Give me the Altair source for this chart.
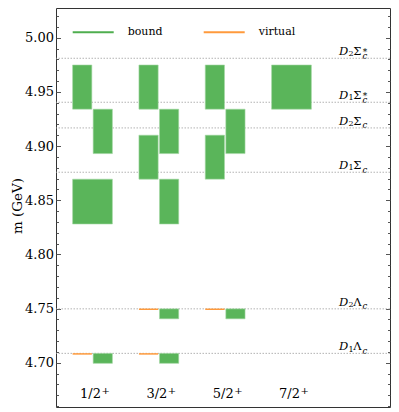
import altair as alt
import pandas as pd

# ---------------- data ----------------
cat_labels = ["1/2", "3/2", "5/2", "7/2"]
cat_parity = ["+", "+", "+", "+"]
cat_pos = [1, 2, 3, 4]

# bound-state bands: category, side of the category slot, lower / upper mass (GeV)
bound_cat = [1, 1, 1, 1, 2, 2, 2, 2, 2, 2, 3, 3, 3, 3, 4]
bound_side = ["L", "R", "F", "R", "L", "R", "L", "R", "R", "R", "L", "R", "L", "R", "F"]
bound_lo = [4.934, 4.893, 4.828, 4.6994, 4.934, 4.893, 4.8694, 4.828, 4.7405, 4.6994,
            4.934, 4.893, 4.8694, 4.7405, 4.934]
bound_hi = [4.9748, 4.934, 4.8694, 4.7086, 4.9748, 4.934, 4.910, 4.8694, 4.7497, 4.7086,
            4.9748, 4.934, 4.910, 4.7497, 4.9748]

# virtual states (thin lines), drawn on the left half of the slot
virt_cat = [1, 2, 2, 3]
virt_m = [4.7081, 4.7493, 4.7081, 4.7493]

# thresholds
thr_digit = ["1", "2", "1", "2", "1", "2"]
thr_baryon = ["Λ", "Λ", "Σ", "Σ", "Σ", "Σ"]
thr_star = ["", "", "", "", "*", "*"]
thr_m = [4.7086, 4.7497, 4.8758, 4.9167, 4.9404, 4.981]

legend_domain = ["bound", "virtual"]
legend_colors = ["#4fae4f", "#ff9a3c"]

yticks_major = [4.70, 4.75, 4.80, 4.85, 4.90, 4.95, 5.00]
yticks_minor = [round(4.66 + 0.01 * i, 2) for i in range(37)]

# ---------------- layout / style constants ----------------
W, H = 334, 399
Y_DOMAIN = [4.6591, 5.0274]
X_DOMAIN = [0.4497, 5.4852]
SIDE = {"L": (-0.3, -0.01), "R": (0.01, 0.3), "F": (-0.3, 0.3)}
SERIF = "DejaVu Serif"
GREEN = "#5ab55a"
LABEL_X = 283

bound_df = pd.DataFrame({
    "x1": [c + SIDE[s][0] for c, s in zip(bound_cat, bound_side)],
    "x2": [c + SIDE[s][1] for c, s in zip(bound_cat, bound_side)],
    "lo": bound_lo,
    "hi": bound_hi,
})
virt_df = pd.DataFrame({
    "type": "virtual",
    "x1": [c + SIDE["L"][0] for c in virt_cat],
    "x2": [c + SIDE["L"][1] for c in virt_cat],
    "m": virt_m,
})
thr_df = pd.DataFrame({"m": thr_m, "d": thr_digit, "b": thr_baryon, "s": thr_star})
cat_df = pd.DataFrame({"pos": cat_pos, "label": cat_labels, "par": cat_parity})

xscale = alt.Scale(domain=X_DOMAIN, nice=False, zero=False)


def yscale():
    return alt.Scale(domain=Y_DOMAIN, nice=False, zero=False)


major_test = "abs(round(datum.value*100)) % 5 == 0"
tick_size = {"condition": {"test": major_test, "value": 4.5}, "value": 2.5}

axis_labels = alt.Axis(
    orient="left", values=yticks_major, format=".2f", ticks=False, domain=False,
    grid=False, labelFont=SERIF, labelFontSize=13, labelColor="black",
    labelPadding=2.5, title="m (GeV)", titleFont=SERIF, titleFontSize=13.5,
    titleFontWeight="normal", titleColor="black", titleX=-35, titleY=197.5,
    titleBaseline="alphabetic", titleAlign="center", titleAngle=270,
)
axis_ticks_left = alt.Axis(
    orient="right", offset=-W, values=yticks_minor, labels=False, domain=False,
    grid=False, ticks=True, tickSize=tick_size, tickColor="#555", tickWidth=1, title=None,
)
axis_ticks_right = alt.Axis(
    orient="left", offset=-W, values=yticks_minor, labels=False, domain=False,
    grid=False, ticks=True, tickSize=tick_size, tickColor="#555", tickWidth=1, title=None,
)

thr_rules = alt.Chart(thr_df).mark_rule(
    color="#a0a0a0", strokeWidth=0.8, strokeDash=[1.5, 1.5]
).encode(y=alt.Y("m:Q", scale=yscale(), axis=axis_labels))

rects = alt.Chart(bound_df).mark_rect(
    color=GREEN, stroke="#a6d9a6", strokeWidth=0.6
).encode(
    x=alt.X("x1:Q", scale=xscale, axis=None),
    x2="x2:Q",
    y=alt.Y("lo:Q", scale=yscale(), axis=axis_ticks_left),
    y2="hi:Q",
)

virt = alt.Chart(virt_df).mark_rule(strokeWidth=1.5).encode(
    x=alt.X("x1:Q", scale=xscale, axis=None),
    x2="x2:Q",
    y=alt.Y("m:Q", scale=yscale(), axis=axis_ticks_right),
    stroke=alt.Stroke(
        "type:N",
        scale=alt.Scale(domain=legend_domain, range=legend_colors),
        legend=alt.Legend(
            title=None, orient="none", legendX=15.7, legendY=2.5, direction="horizontal",
            columns=2, symbolType="stroke", symbolSize=1681, symbolStrokeWidth=2,
            labelFont=SERIF, labelFontSize=11, labelColor="black", labelOffset=13,
            columnPadding=37, padding=0,
        ),
    ),
)


def thr_piece(text=None, field=None, size=11.5, style="normal", dx=0, dy=0):
    kw = dict(align="left", baseline="alphabetic", font=SERIF, fontSize=size,
              fontStyle=style, dx=dx, dy=dy, color="black")
    if text is not None:
        kw["text"] = text
    m = alt.Chart(thr_df).mark_text(**kw)
    enc = dict(x=alt.value(LABEL_X), y=alt.Y("m:Q", scale=yscale(), axis=None))
    if field is not None:
        enc["text"] = alt.Text(field + ":N")
    return m.encode(**enc)


lab_D = thr_piece(text="D", size=11.5, style="italic", dx=0, dy=-3.3)
lab_d = thr_piece(field="d", size=8, dx=9.5, dy=-1.8)
lab_b = thr_piece(field="b", size=11.5, dx=14.3, dy=-3.3)
lab_c = thr_piece(text="c", size=8.5, style="italic", dx=23.5, dy=0.5)
lab_s = thr_piece(field="s", size=9, dx=23.8, dy=-3.5)

cat_main = alt.Chart(cat_df).mark_text(
    font=SERIF, fontSize=13, color="black", align="right", baseline="alphabetic", dx=8.5
).encode(
    x=alt.X("pos:Q", scale=xscale, axis=None),
    y=alt.value(390),
    text="label:N",
)
cat_sup = alt.Chart(cat_df).mark_text(
    font=SERIF, fontSize=10, color="black", align="left", baseline="alphabetic", dx=9, dy=-4.5
).encode(
    x=alt.X("pos:Q", scale=xscale, axis=None),
    y=alt.value(390),
    text="par:N",
)

chart = alt.layer(
    thr_rules, rects, virt, lab_D, lab_d, lab_b, lab_c, lab_s, cat_main, cat_sup
).resolve_scale(y="independent").properties(
    width=W, height=H,
    autosize=alt.AutoSizeParams(type="none"),
    padding={"left": 48, "top": 0, "right": 1, "bottom": 5},
).configure(font=SERIF).configure_view(stroke="#333333", strokeWidth=1)

chart.save("out.html", embed_options={"renderer": "svg", "actions": False})
